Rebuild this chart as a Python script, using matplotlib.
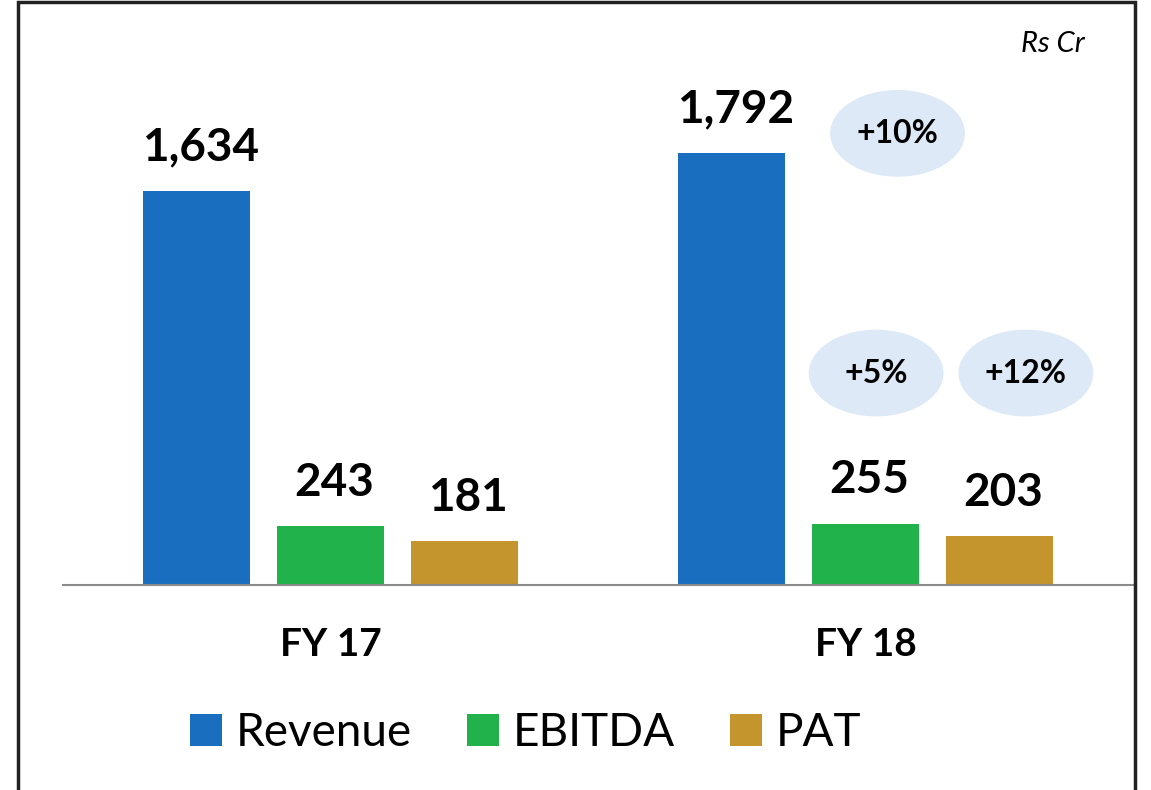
import matplotlib
matplotlib.use('Agg')
import matplotlib.pyplot as plt
from matplotlib.patches import Ellipse, Rectangle
import numpy as np

plt.rcParams['font.family'] = ['Lato', 'DejaVu Sans']

# data
years = ['FY 17', 'FY 18']
series = ['Revenue', 'EBITDA', 'PAT']
revenue = [1634, 1792]
ebitda = [243, 255]
pat = [181, 203]
growth = ['+10%', '+5%', '+12%']   # FY18 vs FY17 for revenue, ebitda, pat
colors = ['#1A6EBF', '#21B24B', '#C4952D']

values = [revenue, ebitda, pat]

fig = plt.figure(figsize=(11.51, 7.90), dpi=100)
ax = fig.add_axes([0.0547, 0.2595, 0.9296, 0.7165])

x = np.arange(len(years))
width = 0.2
offsets = [-0.25, 0, 0.25]

for vals, off, col, name in zip(values, offsets, colors, series):
    bars = ax.bar(x + off, vals, width, color=col, label=name)
    for b, v in zip(bars, vals):
        ax.annotate(f'{v:,}', (b.get_x() + b.get_width() / 2, v),
                    xytext=(3, 22), textcoords='offset points',
                    ha='center', va='baseline', fontsize=33, fontweight='bold')

# growth bubbles over FY 18
bubble_x = [x[1] + 0.06, x[1] + 0.02, x[1] + 0.30]
bubble_y = [1875, 880, 880]
for bx, by, g in zip(bubble_x, bubble_y, growth):
    ax.add_patch(Ellipse((bx, by), 0.252, 360, facecolor='#DDE9F6', edgecolor='none', zorder=3))
    ax.text(bx, by, g, ha='center', va='center', fontsize=23, fontweight='bold', zorder=4)

ax.set_xlim(-0.5, 1.5)
ax.set_ylim(0, 2350)
ax.set_yticks([])
ax.set_xticks(x)
ax.set_xticklabels(years, fontsize=28, fontweight='bold')
ax.tick_params(axis='x', length=0, pad=30)
for s in ['top', 'left', 'right']:
    ax.spines[s].set_visible(False)
ax.spines['bottom'].set_color('#8C8C8C')
ax.spines['bottom'].set_linewidth(1.5)

ax.text(0.955, 0.955, 'Rs Cr', transform=ax.transAxes, ha='right', va='center',
        fontsize=21, fontstyle='italic')

fig.legend(loc='center', bbox_to_anchor=(526 / 1151, 1 - 733 / 790), ncol=3,
           frameon=False, fontsize=33, handlelength=0.7, handleheight=0.7,
           handletextpad=0.3, columnspacing=1.2)

# outer frame
fig.patches.append(Rectangle((18 / 1151, -0.01), (1135 - 18) / 1151, 1.0 - 2 / 790 + 0.01,
                             transform=fig.transFigure, fill=False,
                             edgecolor='#222222', linewidth=2.5))

fig.savefig('out.png', dpi=100)
